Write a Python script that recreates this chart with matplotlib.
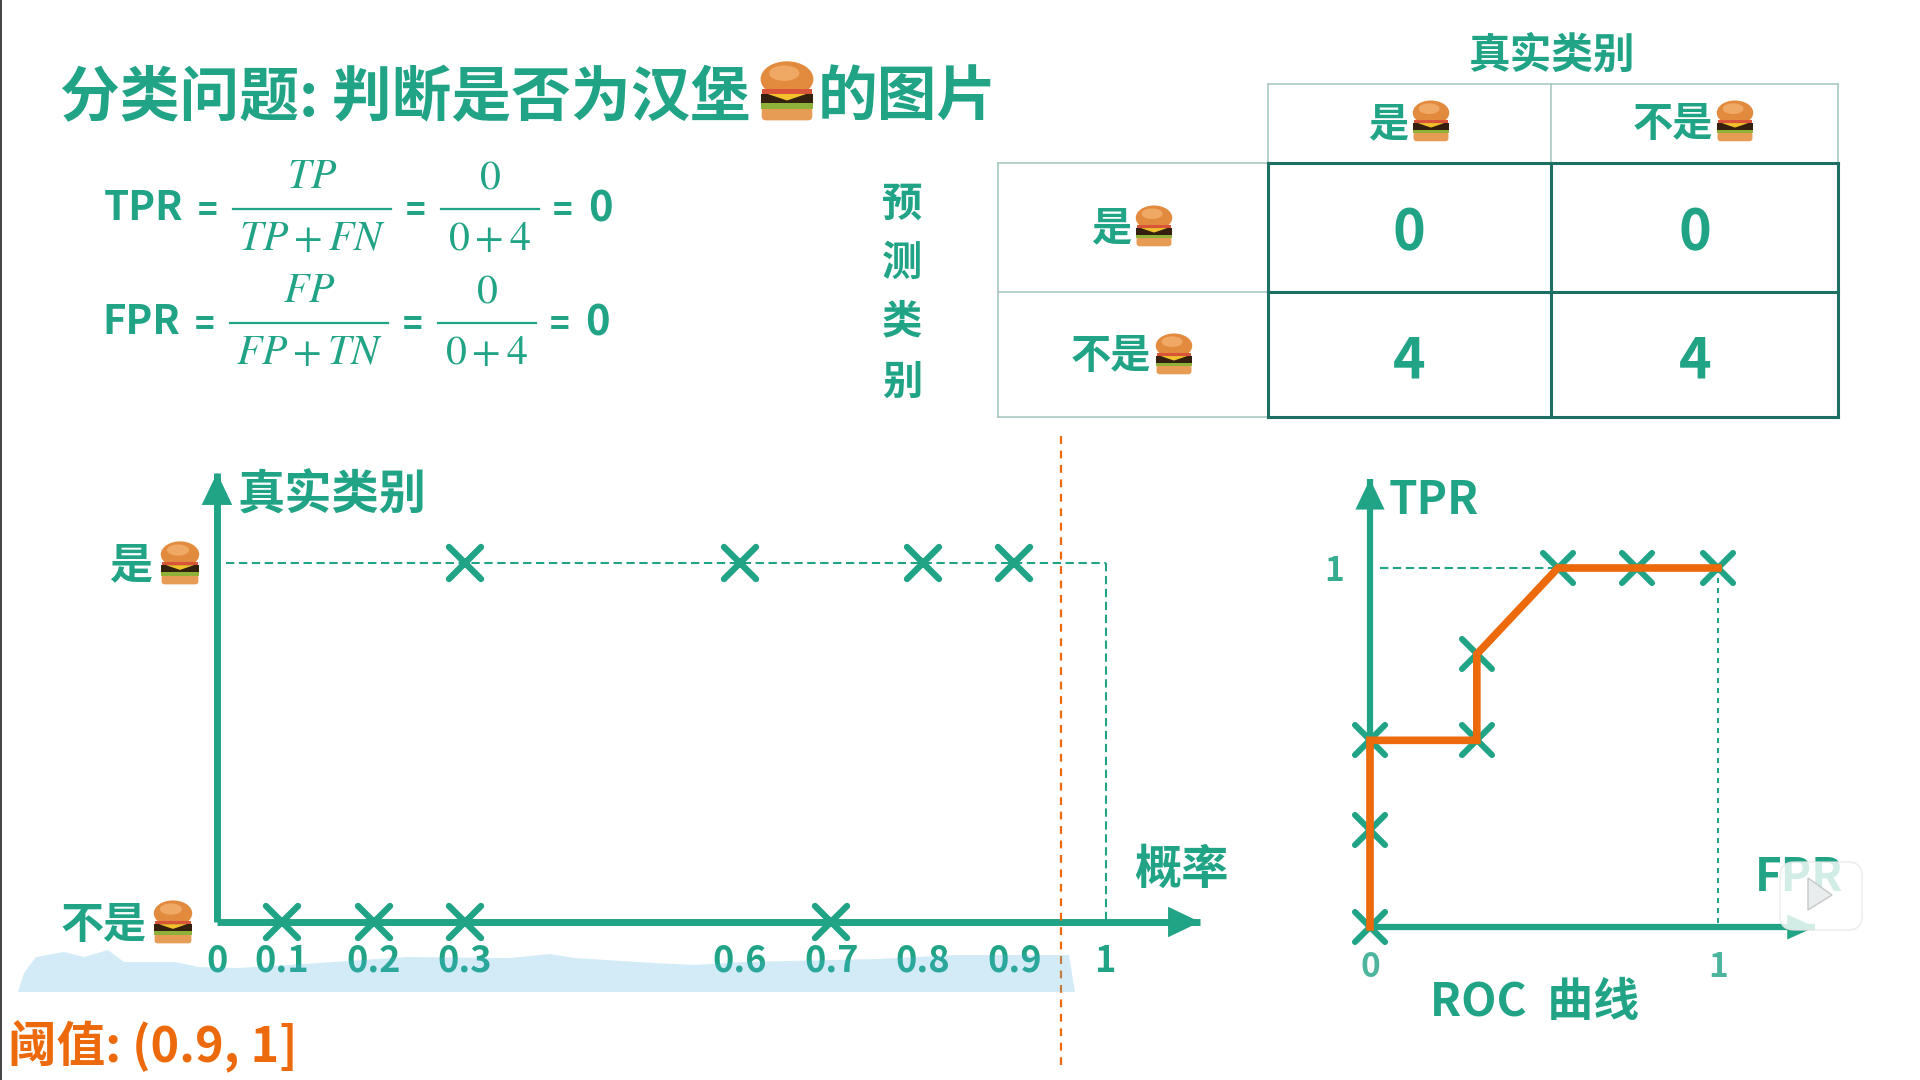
import matplotlib
matplotlib.use("Agg")
import matplotlib.pyplot as plt
from matplotlib.markers import MarkerStyle
from matplotlib.patches import Ellipse, FancyBboxPatch, Polygon, Rectangle

# ---------- data ----------
positive_probs = [0.3, 0.6, 0.8, 0.9]
negative_probs = [0.1, 0.2, 0.3, 0.7]
prob_ticks = [0.1, 0.2, 0.3, 0.6, 0.7, 0.8, 0.9, 1.0]
prob_tick_labels = ["0.1", "0.2", "0.3", "0.6", "0.7", "0.8", "0.9", "1"]
threshold_line = 0.951
roc_fpr = [0, 0, 0, 0.307, 0.307, 0.54, 0.767, 1]
roc_tpr = [0, 0.27, 0.52, 0.52, 0.76, 1, 1, 1]
matrix_values = [["0", "0"], ["4", "4"]]
title_left = "分类问题: 判断是否为汉堡"
title_right = "的图片"
threshold_text = "阈值: (0.9, 1]"

GREEN = "#21a385"
ORANGE = "#ec6a0c"
DARK = "#1d6e63"
LIGHT = "#a9c8c3"
W, H = 1920, 1080
FONT = "Noto Sans CJK SC"
CROSS = MarkerStyle("x", capstyle="round")
DASH = (0, (4, 2.2))

plt.rcParams["font.family"] = [FONT, "DejaVu Sans"]
plt.rcParams["mathtext.fontset"] = "stix"

fig = plt.figure(figsize=(19.2, 10.8), dpi=100, facecolor="white")


def px_axes(x0, y0, x1, y1, z):
    return fig.add_axes([x0 / W, 1 - y1 / H, (x1 - x0) / W, (y1 - y0) / H], zorder=z)


def arrow_head(ax, start, end, color=GREEN, length=2.3, width=1.1):
    ax.annotate("", xy=end, xytext=start, xycoords="axes fraction",
                textcoords="axes fraction", annotation_clip=False,
                arrowprops=dict(arrowstyle=f"-|>,head_length={length},head_width={width}",
                                mutation_scale=10, lw=0, color=color,
                                shrinkA=0, shrinkB=0))


def style_axes(ax, lw):
    ax.patch.set_alpha(0)
    for s in ("top", "right"):
        ax.spines[s].set_visible(False)
    for s in ("left", "bottom"):
        ax.spines[s].set_color(GREEN)
        ax.spines[s].set_linewidth(lw)
        ax.spines[s].set_capstyle("butt")
    ax.tick_params(length=0)
    ax.set_yticks([])


# ---------- probability chart ----------
px_per = 915.6
xmin = 0.1 - (282 - 217) / px_per
xmax = 1 + (1200 - 1106) / px_per
ax = px_axes(217, 473, 1200, 922, 1)
ax.set_xlim(xmin, xmax)
ax.set_ylim(0, (922 - 473) / 359)
style_axes(ax, 5)
ax.set_xticks([xmin] + prob_ticks, ["0"] + prob_tick_labels, fontsize=26, color=GREEN,
              fontweight="bold")
ax.tick_params(axis="x", pad=15)
arrow_head(ax, (0.9, 0), (1, 0))
arrow_head(ax, (0, 0.9), (0, 1))
ax.plot([xmin + 0.01, 1], [1, 1], color=GREEN, lw=1.5, ls=DASH)
ax.plot([1, 1], [1, 0], color=GREEN, lw=1.5, ls=DASH)
ax.plot(positive_probs, [1] * len(positive_probs), ls="none", marker=CROSS, color=GREEN,
        ms=23, mew=4.6, clip_on=False)
ax.plot(negative_probs, [0] * len(negative_probs), ls="none", marker=CROSS, color=GREEN,
        ms=23, mew=4.6, clip_on=False)
ax.axvline(threshold_line, ymin=(922 - 1065) / 449, ymax=(922 - 435) / 449, color=ORANGE,
           lw=1.6, ls=(0, (3.5, 3)), clip_on=False, zorder=6)

# ---------- ROC chart ----------
ax_r = px_axes(1370, 479, 1815, 927, 1)
ax_r.set_xlim(0, (1815 - 1370) / 348)
ax_r.set_ylim(0, (927 - 479) / 359)
style_axes(ax_r, 4.5)
ax_r.set_xticks([0, 1], ["0", "1"], fontsize=24, color=GREEN, fontweight="bold", alpha=0.8)
ax_r.set_yticks([1], ["1"], fontsize=24, color=GREEN, fontweight="bold", alpha=0.9)
ax_r.tick_params(axis="x", pad=17)
ax_r.tick_params(axis="y", pad=19)
arrow_head(ax_r, (0.9, 0), (1, 0), length=2.0, width=0.9)
arrow_head(ax_r, (0, 0.9), (0, 1), length=2.2, width=1.05)
ax_r.plot([0.03, 0.54], [1, 1], color=GREEN, lw=1.5, ls=DASH)
ax_r.plot([1, 1], [1, 0], color=GREEN, lw=1.5, ls=(0, (2.4, 2.4)))
ax_r.plot(roc_fpr, roc_tpr, ls="none", marker=CROSS, color=GREEN, ms=21, mew=4.4,
          clip_on=False, zorder=3)
ax_r.plot(roc_fpr, roc_tpr, color=ORANGE, lw=5.5, clip_on=False, zorder=4,
          solid_joinstyle="miter")

# ---------- overlay in pixel space ----------
ov = fig.add_axes([0, 0, 1, 1], zorder=5)
ov.set_xlim(0, W)
ov.set_ylim(H, 0)
ov.axis("off")
ov.patch.set_alpha(0)


def txt(x, y, s, size, color=GREEN, ha="center", **kw):
    kw.setdefault("fontweight", "bold")
    ov.text(x, y + 3, s, fontsize=size, color=color, ha=ha, va="center", **kw)


def burger(cx, cy, w):
    h = 1.08 * w
    top = cy - h / 2
    ov.add_patch(Ellipse((cx, top + 0.30 * h), w * 0.96, 0.60 * h, color="#e28b3e", lw=0, zorder=3))
    ov.add_patch(Ellipse((cx - 0.05 * w, top + 0.2 * h), w * 0.55, 0.26 * h, color="#f0a865", lw=0, zorder=3))
    ov.add_patch(Rectangle((cx - 0.46 * w, top + 0.47 * h), 0.92 * w, 0.09 * h, color="#d9553a", lw=0, zorder=4))
    ov.add_patch(Rectangle((cx - 0.47 * w, top + 0.55 * h), 0.94 * w, 0.17 * h, color="#33200f", lw=0, zorder=4))
    ov.add_patch(Polygon([(cx - 0.35 * w, top + 0.55 * h), (cx + 0.35 * w, top + 0.55 * h), (cx, top + 0.66 * h)],
                         color="#f4c12d", lw=0, zorder=5))
    ov.add_patch(Rectangle((cx - 0.48 * w, top + 0.71 * h), 0.96 * w, 0.09 * h, color="#8fb13a", lw=0, zorder=5))
    ov.add_patch(FancyBboxPatch((cx - 0.38 * w, top + 0.84 * h), 0.76 * w, 0.08 * h,
                                boxstyle=f"round,pad={0.08 * w}", color="#e79c55", lw=0, zorder=4))


# left frame edge
ov.plot([0.5, 0.5], [0, H], color="#222222", lw=1.2)

# title
txt(60, 96, title_left, 43, ha="left")
burger(787, 91, 55)
txt(818, 96, title_right, 43, ha="left")


# formulas
def fraction(x0, x1, y, num, den, size=30):
    ov.plot([x0, x1], [y, y], color=GREEN, lw=1.6)
    cx = (x0 + x1) / 2
    ov.text(cx, y - 32, num, fontsize=size, color=GREEN, ha="center", va="center")
    ov.text(cx, y + 29, den, fontsize=size, color=GREEN, ha="center", va="center")


def formula(dx, y, name, num, den, den2):
    txt(144 + dx, y - 3, name, 29)
    txt(208 + dx, y - 1, "=", 24)
    fraction(233 + dx, 391 + dx, y, num, den)
    txt(416 + dx, y - 1, "=", 24)
    fraction(441 + dx, 539 + dx, y, r"$0$", den2)
    txt(563 + dx, y - 1, "=", 24)
    txt(600 + dx, y - 3, "0", 30)


formula(0, 209, "TPR", r"$TP$", r"$TP+FN$", r"$0+4$")
formula(-3, 323, "FPR", r"$FP$", r"$FP+TN$", r"$0+4$")

# table
col_x = [1268, 1551, 1838]
row_y = [163, 292, 417]
left_x, top_y = 998, 84
for x in col_x:
    ov.plot([x, x], [top_y, row_y[0]], color=LIGHT, lw=1.2)
ov.plot([col_x[0], col_x[-1]], [top_y, top_y], color=LIGHT, lw=1.2)
for y in row_y:
    ov.plot([left_x, col_x[0]], [y, y], color=LIGHT, lw=1.2)
ov.plot([left_x, left_x], [row_y[0], row_y[-1]], color=LIGHT, lw=1.2)
for x in col_x:
    ov.plot([x, x], [row_y[0], row_y[-1]], color=DARK, lw=2.2, solid_capstyle="projecting")
for y in row_y:
    ov.plot([col_x[0], col_x[-1]], [y, y], color=DARK, lw=2.2, solid_capstyle="projecting")

txt(1552, 53, "真实类别", 30)
txt(1388, 122, "是", 29)
burger(1431, 121, 38)
txt(1673, 122, "不是", 29)
burger(1735, 121, 38)
txt(1111, 226, "是", 29)
burger(1154, 226, 38)
txt(1111, 354, "不是", 29)
burger(1174, 354, 38)
for r, yy in enumerate([230, 359]):
    for c, xx in enumerate([1409, 1695]):
        txt(xx, yy, matrix_values[r][c], 40)

for yy, ch in zip([201, 260, 319, 379], "预测类别"):
    txt(902, yy, ch, 29)

# axis labels
txt(238, 492, "真实类别", 34, ha="left")
txt(1134, 867, "概率", 34, ha="left")
txt(131, 562, "是", 31)
burger(180, 563, 40)
txt(104, 922, "不是", 31)
burger(173, 922, 40)
txt(1389, 498, "TPR", 33, ha="left")
txt(1755, 875, "FPR", 33, ha="left")
txt(1430, 1000, "ROC  曲线", 33, ha="left")
txt(8, 1044, threshold_text, 35, color=ORANGE, ha="left")

# pale subtitle strip
strip_x = [18, 24, 36, 64, 84, 108, 124, 175, 199, 239, 319, 407, 510, 550, 574, 654, 694, 742, 877, 957, 1069, 1075]
strip_y = [992, 973, 957, 952, 957, 950, 962, 962, 967, 968, 963, 957, 958, 954, 958, 963, 965, 962, 959, 955, 955, 992]
ov.add_patch(Polygon(list(zip(strip_x, strip_y)), closed=True, color="#4cb3e3", alpha=0.25, lw=0, zorder=2))

# video watermark
ov.add_patch(FancyBboxPatch((1792, 874), 58, 44, boxstyle="round,pad=12,rounding_size=14",
                            facecolor="white", edgecolor="#e6e6e6", alpha=0.8, lw=1, zorder=8))
ov.add_patch(Polygon([(1808, 878), (1808, 910), (1832, 895)], closed=True, facecolor="#e9eded",
                     edgecolor="#c8c8c8", lw=1, zorder=9))

fig.savefig("out.png", dpi=100)
